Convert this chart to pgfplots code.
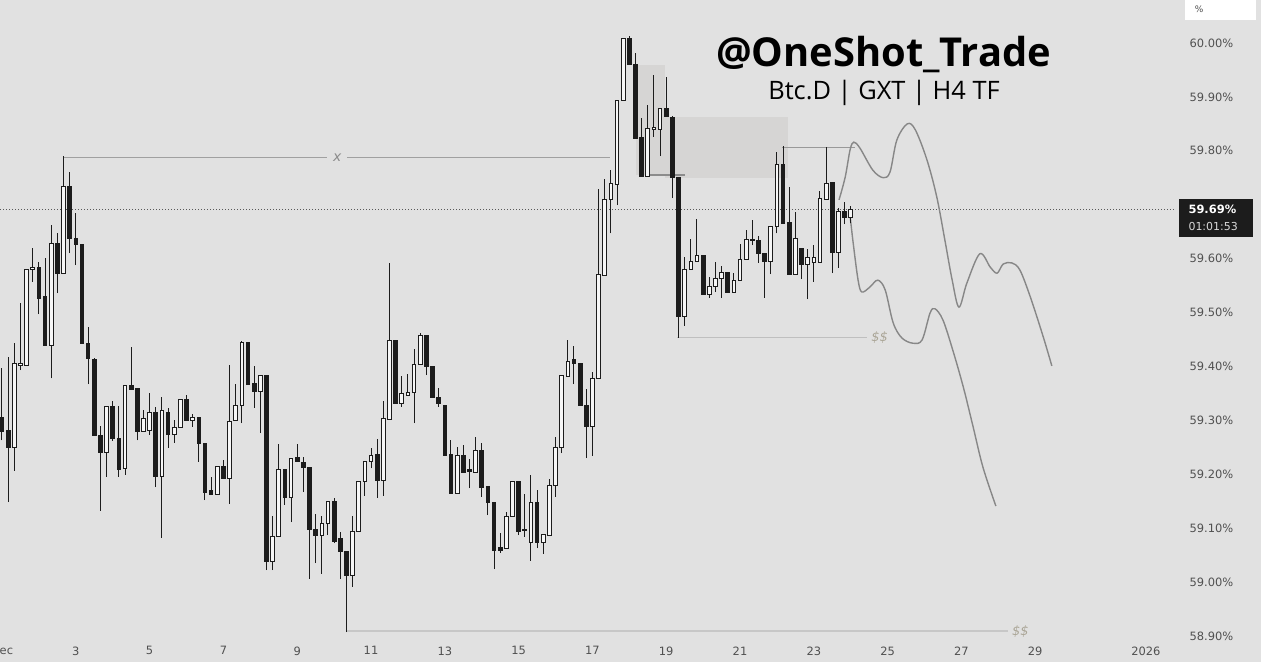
\documentclass[border=0pt]{standalone}
\usepackage{pgfplots}
\pgfplotsset{compat=1.18}
\usepackage{fontspec}
\setmainfont{DejaVu Sans}
\newfontfamily\titlefont{Open Sans}
\definecolor{bg}{RGB}{225,225,225}
\definecolor{zone}{RGB}{214,213,212}
\definecolor{annot}{RGB}{160,160,160}
\definecolor{curvec}{RGB}{135,135,135}
\definecolor{ticktext}{RGB}{80,80,80}
\definecolor{cdark}{RGB}{28,28,28}
\definecolor{cup}{RGB}{246,246,246}
\pgfdeclareplotmark{nothing}{}
\pgfplotsset{
  candle/.style n args={2}{
    only marks, mark=nothing, scatter,
    visualization depends on={\thisrow{h}-\thisrow{o} \as \candH},
    visualization depends on={\thisrow{l}-\thisrow{o} \as \candL},
    visualization depends on={\thisrow{c}-\thisrow{o} \as \candC},
    scatter/@pre marker code/.code={
      \draw[line width=1bp, draw=cdark] (axis direction cs:0,\candL) -- (axis direction cs:0,\candH);
      \filldraw[line width=0.9bp, draw=#1, fill=#2] (axis direction cs:-0.3,0) rectangle (axis direction cs:0.3,\candC);
    },
    scatter/@post marker code/.code={},
  },
}
\begin{document}
\begin{tikzpicture}[x=1bp,y=1bp]
\fill[bg] (0,0) rectangle (1261,662);
\begin{axis}[
  at={(0bp,14bp)}, anchor=south west,
  scale only axis, width=1175bp, height=648bp,
  xmin=-0.325, xmax=190.73, ymin=58.8776, ymax=60.0798,
  axis line style={draw=none},
  major tick length=0pt,
  ytick={58.9,59.0,59.1,59.2,59.3,59.4,59.5,59.6,59.8,59.9,60.0},
  yticklabel pos=right,
  /pgf/number format/assume math mode=true,
  yticklabel style={anchor=west, xshift=11bp, font=\fontsize{11.5}{13}\selectfont, text=ticktext},
  yticklabel={\pgfmathprintnumber[fixed,fixed zerofill,precision=2]{\tick}\%},
  xtick={0,12,24,36,48,60,72,84,96,108,120,132,144,156,168,186},
  xticklabels={Dec,3,5,7,9,11,13,15,17,19,21,23,25,27,29,2026},
  xticklabel style={font=\fontsize{11.5}{13}\selectfont, text=ticktext, yshift=5bp},
]
% zones
\addplot[fill=zone, draw=none] coordinates {(103.1,59.959) (107.8,59.959) (107.8,59.755) (103.1,59.755)} -- cycle;
\addplot[fill=zone, draw=none] coordinates {(107.8,59.863) (127.8,59.863) (127.8,59.750) (107.8,59.750)} -- cycle;
% current price dotted line
\addplot[draw=black!65, line width=1bp, dash pattern=on 1bp off 2bp] coordinates {(-0.325,59.692) (190.73,59.692)};
% x line
\addplot[annot, line width=1.5bp] coordinates {(9.92,59.788) (52.85,59.788)};
\addplot[annot, line width=1.5bp] coordinates {(56.1,59.788) (98.9,59.788)};
\node[text=black!45, font=\fontsize{14}{16}\selectfont\itshape] at (axis cs:54.5,59.788) {x};
% small lines
\addplot[black!45, line width=2bp] coordinates {(104.6,59.755) (111.1,59.755)};
\addplot[black!40, line width=1bp] coordinates {(126.8,59.807) (138.7,59.807)};
% $$ lines
\addplot[black!25, line width=1bp] coordinates {(109.8,59.453) (140.7,59.453)};
\node[text={rgb,255:red,170;green,165;blue,150}, font=\fontsize{13}{15}\selectfont\itshape] at (axis cs:142.7,59.453) {\$\$};
\addplot[black!22, line width=1.5bp] coordinates {(55.9,58.909) (163.6,58.909)};
\node[text={rgb,255:red,170;green,165;blue,150}, font=\fontsize{13}{15}\selectfont\itshape] at (axis cs:165.6,58.909) {\$\$};
% down candles
\addplot[candle={cdark}{cdark}] table {
i o h l c
0 59.306 59.397 59.263 59.280
1 59.282 59.417 59.148 59.250
6 59.584 59.594 59.497 59.527
7 59.529 59.601 59.438 59.438
9 59.629 59.647 59.536 59.573
11 59.733 59.761 59.610 59.638
12 59.638 59.685 59.588 59.627
13 59.627 59.627 59.442 59.442
14 59.442 59.473 59.367 59.414
15 59.412 59.416 59.271 59.271
16 59.271 59.289 59.132 59.241
18 59.325 59.336 59.262 59.267
19 59.267 59.327 59.195 59.208
21 59.364 59.436 59.358 59.358
22 59.360 59.360 59.263 59.280
25 59.315 59.325 59.176 59.195
27 59.315 59.323 59.249 59.273
30 59.338 59.347 59.299 59.299
32 59.306 59.306 59.223 59.258
33 59.258 59.258 59.152 59.167
34 59.169 59.195 59.163 59.163
36 59.215 59.226 59.193 59.193
40 59.445 59.445 59.367 59.367
41 59.369 59.401 59.323 59.354
43 59.384 59.384 59.022 59.039
46 59.208 59.208 59.143 59.156
48 59.232 59.256 59.223 59.223
49 59.221 59.232 59.167 59.213
50 59.213 59.213 59.006 59.098
51 59.098 59.126 59.035 59.087
54 59.150 59.156 59.072 59.076
55 59.080 59.093 59.006 59.056
56 59.056 59.056 58.907 59.013
61 59.237 59.265 59.156 59.189
64 59.449 59.449 59.332 59.332
69 59.458 59.458 59.384 59.399
70 59.399 59.399 59.343 59.343
71 59.343 59.360 59.325 59.332
72 59.328 59.328 59.234 59.234
73 59.236 59.263 59.165 59.165
75 59.234 59.254 59.204 59.204
76 59.208 59.228 59.174 59.206
78 59.245 59.258 59.158 59.176
79 59.178 59.178 59.124 59.147
80 59.148 59.148 59.024 59.059
81 59.065 59.091 59.054 59.059
84 59.186 59.186 59.087 59.093
85 59.098 59.163 59.084 59.095
87 59.148 59.171 59.063 59.074
93 59.412 59.438 59.367 59.406
94 59.406 59.406 59.327 59.327
95 59.327 59.358 59.230 59.289
102 60.009 60.013 59.961 59.961
103 59.961 59.981 59.822 59.822
104 59.824 59.861 59.753 59.753
108 59.879 59.937 59.863 59.863
109 59.861 59.865 59.712 59.751
110 59.751 59.751 59.453 59.492
114 59.605 59.605 59.533 59.533
118 59.575 59.575 59.538 59.538
122 59.635 59.672 59.625 59.633
123 59.633 59.642 59.592 59.610
124 59.610 59.610 59.527 59.594
127 59.774 59.809 59.666 59.666
128 59.668 59.733 59.571 59.571
130 59.618 59.618 59.562 59.590
135 59.742 59.742 59.573 59.612
137 59.688 59.705 59.664 59.677
};
% up candles
\addplot[candle={cdark}{cup}] table {
i o h l c
2 59.250 59.443 59.206 59.406
3 59.401 59.518 59.393 59.406
4 59.401 59.579 59.401 59.579
5 59.579 59.620 59.557 59.584
8 59.438 59.662 59.378 59.629
10 59.573 59.790 59.573 59.733
17 59.241 59.325 59.195 59.325
20 59.210 59.364 59.199 59.364
23 59.280 59.319 59.280 59.304
24 59.282 59.351 59.273 59.315
26 59.195 59.343 59.082 59.319
28 59.273 59.301 59.258 59.286
29 59.286 59.338 59.286 59.338
31 59.299 59.312 59.288 59.306
35 59.163 59.215 59.163 59.215
37 59.193 59.403 59.145 59.297
38 59.299 59.367 59.299 59.327
39 59.327 59.447 59.295 59.445
42 59.354 59.384 59.276 59.384
44 59.039 59.122 59.022 59.085
45 59.085 59.256 59.085 59.208
47 59.156 59.230 59.111 59.230
52 59.087 59.122 59.015 59.108
53 59.108 59.150 59.087 59.150
57 59.013 59.122 58.991 59.093
58 59.093 59.187 59.093 59.187
59 59.187 59.223 59.160 59.223
60 59.223 59.249 59.211 59.234
62 59.189 59.336 59.160 59.304
63 59.302 59.592 59.302 59.449
65 59.332 59.382 59.325 59.349
66 59.347 59.386 59.347 59.351
67 59.351 59.432 59.295 59.404
68 59.403 59.462 59.403 59.458
74 59.165 59.250 59.165 59.234
77 59.204 59.269 59.204 59.245
82 59.063 59.130 59.063 59.121
83 59.121 59.186 59.121 59.186
86 59.074 59.199 59.039 59.148
88 59.074 59.089 59.052 59.089
89 59.087 59.191 59.085 59.180
90 59.180 59.269 59.158 59.250
91 59.249 59.384 59.239 59.384
92 59.382 59.449 59.382 59.410
96 59.289 59.390 59.234 59.377
97 59.377 59.729 59.377 59.570
98 59.568 59.748 59.568 59.709
99 59.709 59.764 59.647 59.740
100 59.738 59.894 59.699 59.894
101 59.894 60.009 59.894 60.009
105 59.753 59.885 59.753 59.842
106 59.840 59.941 59.826 59.844
107 59.840 59.879 59.790 59.879
111 59.492 59.603 59.475 59.579
112 59.579 59.636 59.579 59.594
113 59.594 59.673 59.594 59.605
115 59.533 59.566 59.527 59.549
116 59.549 59.594 59.538 59.564
117 59.564 59.586 59.527 59.575
119 59.538 59.573 59.538 59.560
120 59.560 59.627 59.560 59.599
121 59.599 59.653 59.599 59.635
125 59.594 59.659 59.571 59.659
126 59.659 59.798 59.647 59.774
129 59.571 59.686 59.571 59.638
131 59.590 59.618 59.525 59.603
132 59.592 59.625 59.557 59.603
133 59.592 59.725 59.592 59.711
134 59.709 59.807 59.709 59.740
136 59.612 59.694 59.583 59.688
138 59.677 59.698 59.666 59.692
};
% projection curves
\addplot[curvec, line width=1.4bp, smooth, tension=0.55] coordinates {
(136.1,59.709) (137.1,59.751) (137.9,59.802) (138.5,59.816) (139.5,59.805)
(141.6,59.764) (143.3,59.750) (144.4,59.761) (145.5,59.820) (147.2,59.850)
(148.5,59.839) (150.4,59.783) (152.0,59.714) (153.3,59.635) (154.5,59.560)
(155.6,59.510) (156.9,59.555) (159.0,59.609) (160.7,59.584) (161.8,59.573)
(162.8,59.590) (164.2,59.592) (165.5,59.579) (167.2,59.529) (169.3,59.455)
(170.7,59.401)};
\addplot[curvec, line width=1.4bp, smooth, tension=0.55] coordinates {
(137.9,59.679) (138.4,59.629) (139.2,59.560) (139.8,59.538) (141.1,59.547)
(142.4,59.560) (143.6,59.542) (144.9,59.481) (146.3,59.453) (148.1,59.443)
(149.6,59.449) (150.9,59.499) (151.7,59.507) (153.0,59.486) (154.6,59.430)
(156.3,59.362) (157.9,59.288) (159.5,59.213) (161.6,59.141)};
\end{axis}
% title
\node[anchor=base, font=\titlefont\bfseries\fontsize{40}{46}\selectfont] at (883.5,595) {@OneShot\_Trade};
\node[anchor=base, font=\titlefont\fontsize{25.5}{30}\selectfont] at (884,562) {Btc.D | GXT | H4 TF};
% top % box
\fill[white] (1185,642) rectangle (1256,662);
\node[text=ticktext, font=\fontsize{9}{10}\selectfont] at (1199,653) {\%};
% current price box
\fill[cdark] (1179,425) rectangle (1253,463);
\node[anchor=west, text=white, font=\bfseries\fontsize{11.5}{12}\selectfont] at (1185,453) {59.69\%};
\node[anchor=west, text=white!85!black, font=\fontsize{11}{12}\selectfont] at (1185,435) {01:01:53};
\pgfresetboundingbox
\useasboundingbox (0,0) rectangle (1261,662);
\end{tikzpicture}
\end{document}
